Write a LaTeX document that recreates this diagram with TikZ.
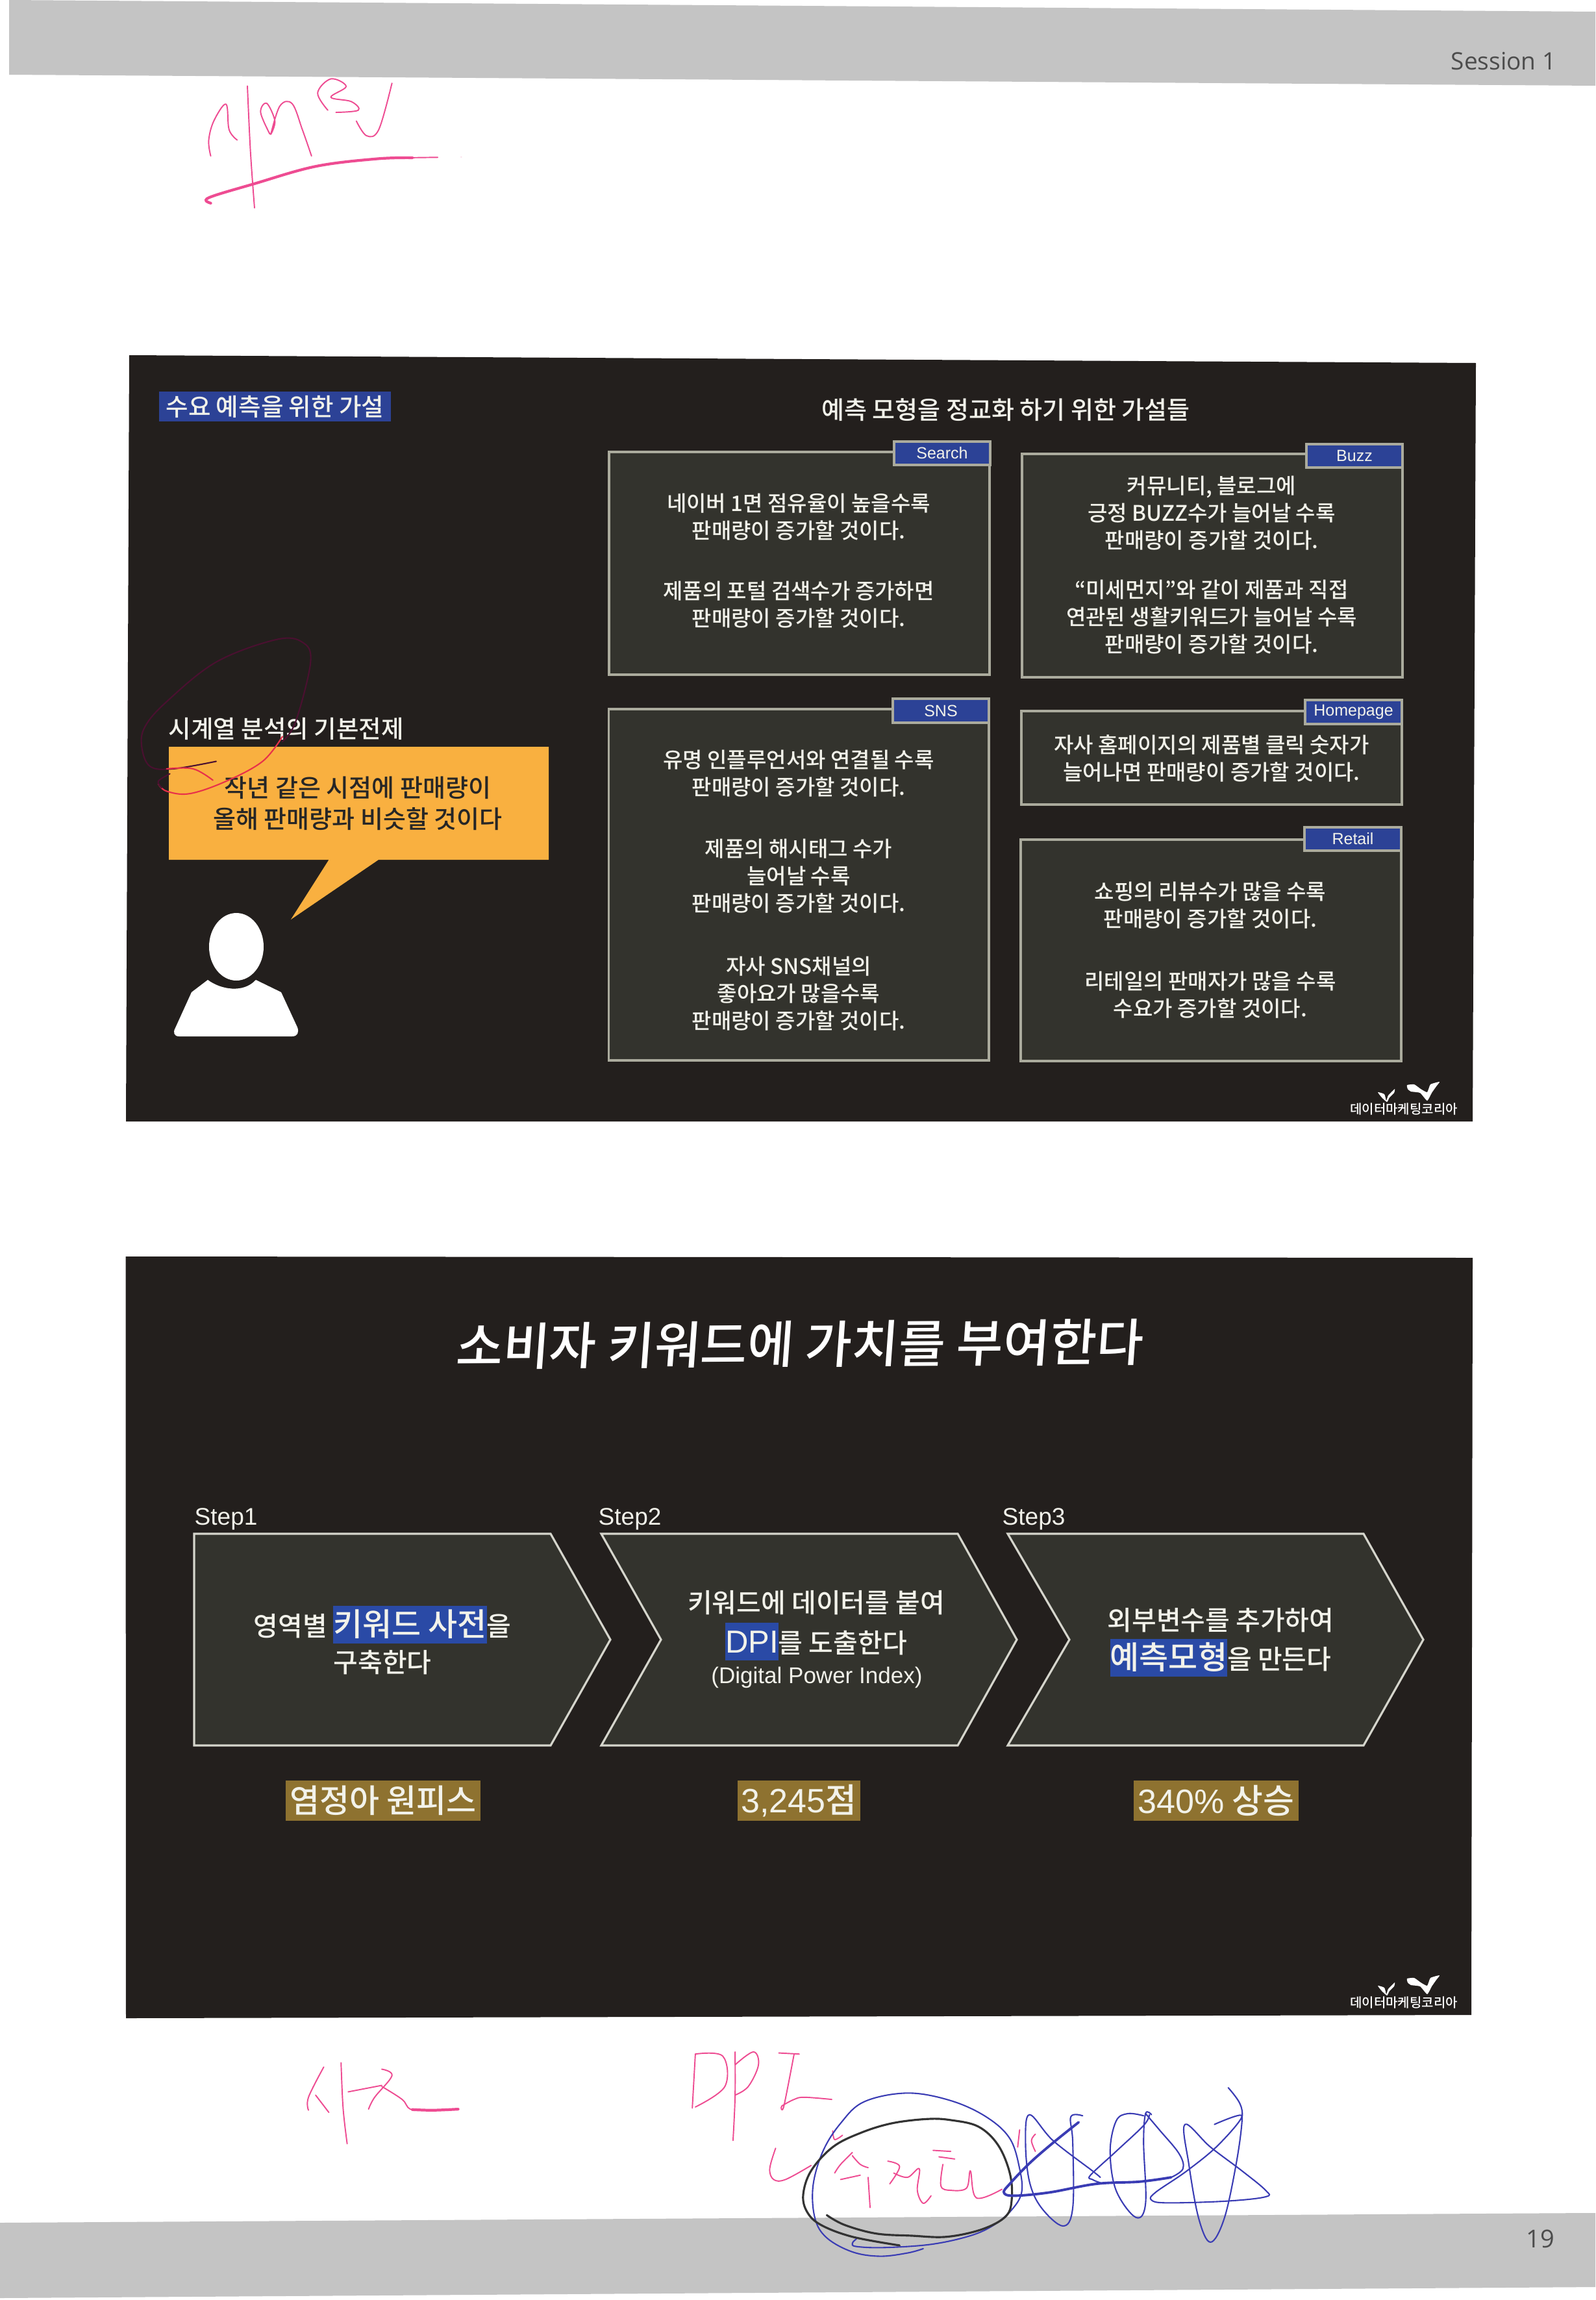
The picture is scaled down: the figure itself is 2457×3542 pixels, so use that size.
\documentclass[tikz,border=0pt]{standalone}
\usepackage{fontspec}
\setmainfont{Noto Sans CJK KR Medium}
\newfontfamily\med{Noto Sans CJK KR Medium}
\newfontfamily\lat{Liberation Sans}
\newfontfamily\opn{Open Sans}
\newfontfamily\brush{Noto Sans CJK KR Medium}[FakeSlant=0.08]
\newdimen\pxu \pxu=0.28453pt
\newcommand\fz[2]{\fontsize{#1\pxu}{#2\pxu}\selectfont}
\definecolor{slidebg}{HTML}{231F1D}
\definecolor{panelbg}{HTML}{33332D}
\definecolor{panelln}{HTML}{ABAB9D}
\definecolor{chevln}{HTML}{D5D5CC}
\definecolor{tagblue}{HTML}{2C4296}
\definecolor{hlblue}{HTML}{2A4AA6}
\definecolor{orangebox}{HTML}{F9B040}
\definecolor{gold}{HTML}{8E7230}
\definecolor{band}{HTML}{C4C4C4}
\definecolor{txt}{HTML}{F2F2EA}
\definecolor{inkp}{HTML}{EE4C92}
\definecolor{inkb}{HTML}{3A3CB4}
\definecolor{inkm}{HTML}{4A1030}
\definecolor{inkr}{HTML}{E8304A}
\newcommand\hl[1]{{\setlength\fboxsep{0pt}\colorbox{hlblue}{\rule[-11\pxu]{0pt}{58\pxu}\fz{49}{58}#1}}}
\tikzset{
  panel/.style={draw=panelln,fill=panelbg,line width=0.9pt},
  tagbox/.style={draw=panelln,fill=tagblue,line width=0.9pt},
  tagtext/.style={text=txt,font=\lat\fz{25}{30},inner sep=0pt},
  ptext/.style={text=txt,align=center,font=\fz{33}{42},inner sep=0pt},
  chev/.style={draw=chevln,fill=panelbg,line width=0.9pt},
  steplbl/.style={text=txt,anchor=west,font=\lat\fz{37}{44},inner sep=0pt},
  ctext/.style={text=txt,align=center,inner sep=0pt},
  goldbox/.style={fill=gold,text=txt,inner sep=0pt},
  logotext/.style={text=white,font=\fz{20}{22},inner sep=0pt},
  pinkink/.style={draw=inkp,line width=0.55pt,line cap=round,line join=round},
  pinkthick/.style={draw=inkp,line width=1.2pt,line cap=round},
  blueink/.style={draw=inkb,line width=0.6pt,line cap=round,line join=round},
  bluethick/.style={draw=inkb,line width=1.1pt,line cap=round,line join=round},
  blackink/.style={draw=black!80,line width=0.9pt,line cap=round,line join=round},
  maroonink/.style={draw=inkm,line width=0.6pt,line cap=round},
  redink/.style={draw=inkr,line width=0.6pt,line cap=round},
}
\newcommand\inkline[2]{\draw[#1] plot[smooth,tension=0.6] coordinates {#2};}
\newcommand\logobirds{%
\fill[white] plot[smooth cycle,tension=0.3] coordinates {(2122,1682)(2132,1685)(2135,1695)(2138,1687)(2148,1677)(2147,1683)(2140,1690)(2136,1697)(2128,1690)};
\fill[white] plot[smooth cycle,tension=0.3] coordinates {(2167,1671)(2178,1670)(2188,1677)(2198,1682)(2203,1670)(2217,1666)(2212,1673)(2205,1683)(2198,1695)(2187,1683)(2173,1681)(2168,1677)};
}
\begin{document}
\begin{tikzpicture}[x=0.01cm,y=-0.01cm]
\useasboundingbox (0,0) rectangle (2457,3542);
\fill[white] (0,0) rectangle (2457,3542);
% page bands
\fill[band] (14,0) -- (2457,18) -- (2457,132) -- (14,115) -- cycle;
\fill[band] (0,3423) -- (2445,3408) -- (2457,3408) -- (2457,3522) -- (0,3539) -- cycle;
\node[text=black!70,font=\opn\fz{37}{40},anchor=east,inner sep=0pt] (session) at (2397,94) {Session 1};
\node[text=black!70,font=\opn\fz{38}{40},anchor=east,inner sep=0pt] (pageno) at (2395,3448) {19};
% slide 1
\fill[slidebg] (199,547) -- (2273,559) -- (2268,1727) -- (194,1727) -- cycle;
\node[fill=tagblue,text=txt,minimum width=357\pxu,minimum height=46\pxu,inner sep=0pt,font=\fz{37.5}{44}] (t1) at (423.5,626) {수요 예측을 위한 가설};
\node[text=txt,font=\fz{38}{44},inner sep=0pt] (t2) at (1549,631) {예측 모형을 정교화 하기 위한 가설들};
% Search
\draw[panel] (938,696) rectangle (1524,1039);
\draw[tagbox] (1377,680) rectangle (1525,716);
\node[tagtext] (tag1) at (1451,698) {Search};
\node[ptext] (s1) at (1230,796.5) {네이버 1면 점유율이 높을수록\\판매량이 증가할 것이다.};
\node[ptext] (s2) at (1230,931.5) {제품의 포털 검색수가 증가하면\\판매량이 증가할 것이다.};
% Buzz
\draw[panel] (1574,699) rectangle (2160,1043);
\draw[tagbox] (2012,684) rectangle (2160,720);
\node[tagtext] (tag2) at (2086,702) {Buzz};
\node[ptext] (b1) at (1866,790) {커뮤니티, 블로그에\\긍정 BUZZ수가 늘어날 수록\\판매량이 증가할 것이다.};
\node[ptext] (b2) at (1866,950.5) {“미세먼지”와 같이 제품과 직접\\연관된 생활키워드가 늘어날 수록\\판매량이 증가할 것이다.};
% SNS
\draw[panel] (937.5,1092) rectangle (1523,1633);
\draw[tagbox] (1375,1076) rectangle (1523,1113);
\node[tagtext] (tag3) at (1449,1094.5) {SNS};
\node[ptext] (n1) at (1230,1191) {유명 인플루언서와 연결될 수록\\판매량이 증가할 것이다.};
\node[ptext] (n2) at (1230,1349) {제품의 해시태그 수가\\늘어날 수록\\판매량이 증가할 것이다.};
\node[ptext] (n3) at (1230,1530) {자사 SNS채널의\\좋아요가 많을수록\\판매량이 증가할 것이다.};
% Homepage
\draw[panel] (1573,1095) rectangle (2159,1239);
\draw[tagbox] (2010,1078) rectangle (2159,1115);
\node[tagtext] (tag4) at (2084.5,1096.5) {Homepage};
\node[ptext] (h1) at (1866,1167.5) {자사 홈페이지의 제품별 클릭 숫자가\\늘어나면 판매량이 증가할 것이다.};
% Retail
\draw[panel] (1572,1293) rectangle (2158,1634);
\draw[tagbox] (2009,1274) rectangle (2158,1310);
\node[tagtext] (tag5) at (2083.5,1292) {Retail};
\node[ptext] (r1) at (1864,1394) {쇼핑의 리뷰수가 많을 수록\\판매량이 증가할 것이다.};
\node[ptext] (r2) at (1864,1532.5) {리테일의 판매자가 많을 수록\\수요가 증가할 것이다.};
% left column
\node[text=txt,anchor=west,inner sep=0pt,font=\med\fz{37.5}{44}] (basis) at (259,1122) {시계열 분석의 기본전제};
\fill[orangebox] (260,1150) -- (845,1150) -- (845,1324) -- (583,1324) -- (448,1416) -- (506.5,1324) -- (260,1324) -- cycle;
\node[text=black!85,align=center,inner sep=0pt,font=\med\fz{38}{48}] (quote) at (551,1237) {작년 같은 시점에 판매량이\\올해 판매량과 비슷할 것이다};
\fill[white] (364,1458) ellipse [x radius=42,y radius=52];
\fill[white] (320,1509) .. controls (340,1524) and (375,1530) .. (394,1509) -- (433,1528) -- (458,1582) .. controls (461,1590) and (458,1596) .. (450,1596) -- (276,1596) .. controls (268,1596) and (266,1590) .. (270,1583) -- (295,1528) -- cycle;
% logo 1
\logobirds
\node[logotext] (logoa) at (2162,1708) {데이터마케팅코리아};
% slide 2
\fill[slidebg] (193.5,1935) -- (2268,1937) -- (2266,3103) -- (194,3108) -- cycle;
\node[text=white,font=\brush\fz{78}{90},inner sep=0pt,rotate=0.4] (title) at (1230,2070) {소비자 키워드에 가치를 부여한다};
\node[steplbl] (st1) at (299,2339) {Step1};
\node[steplbl] (st2) at (921,2339) {Step2};
\node[steplbl] (st3) at (1543,2339) {Step3};
\draw[chev] (299,2362) -- (848,2362) -- (940,2525) -- (848,2688) -- (299,2688) -- cycle;
\draw[chev] (926,2362) -- (1475,2362) -- (1566,2525) -- (1475,2688) -- (926,2688) -- (1018,2525) -- cycle;
\draw[chev] (1552,2362) -- (2100,2362) -- (2192,2525) -- (2100,2688) -- (1552,2688) -- (1647,2525) -- cycle;
\node[ctext,font=\fz{41}{56}] (c1) at (589,2526) {영역별 \hl{키워드 사전}을\\구축한다};
\node[ctext,font=\fz{41}{62}] (c2a) at (1257,2503) {키워드에 데이터를 붙여\\\hl{\lat DPI}를 도출한다};
\node[text=txt,font=\lat\fz{35}{40},inner sep=0pt] (c2b) at (1258,2583) {(Digital Power Index)};
\node[ctext,font=\fz{41}{60}] (c3) at (1880,2529) {외부변수를 추가하여\\\hl{예측모형}을 만든다};
\node[goldbox,minimum width=300\pxu,minimum height=61.5\pxu,font=\fz{50}{58}] (g1) at (590,2773) {염정아 원피스};
\node[goldbox,minimum width=189\pxu,minimum height=61.5\pxu,font=\fz{52}{58}] (g2) at (1230.5,2773) {{\lat 3,245}점};
\node[goldbox,minimum width=254\pxu,minimum height=61.5\pxu,font=\fz{52}{58}] (g3) at (1873,2773) {{\lat 340\%} 상승};
% logo 2
\begin{scope}[shift={(0,1376)}]
\logobirds
\end{scope}
\node[logotext] (logob) at (2162,3084) {데이터마케팅코리아};
% ink on slide 1
\begin{scope}[shift={(180,530)},x=0.0051cm,y=-0.00765cm]
\inkline{maroonink}{(500,800)(540,760)(585,640)(560,600)(480,595)(300,640)(150,720)(85,770)(75,810)(100,850)(170,855)(300,840)}
\inkline{redink}{(125,885)(150,900)(220,905)(330,880)(440,840)(500,790)}
\inkline{redink}{(150,855)(230,855)(290,878)}
\inkline{maroonink}{(160,865)(125,880)(135,893)}
\end{scope}
% ink at top
\begin{scope}[x=0.01567cm,y=-0.00333cm]
\inkline{pinkink}{(207,722)(205,650)(210,560)(222,482)(225,600)(233,648)}
\inkline{pinkink}{(243,398)(246,700)(250,962)}
\inkline{pinkink}{(265,620)(256,520)(262,478)(270,560)(266,620)(275,490)(287,480)(297,600)(306,722)}
\inkline{pinkink}{(322,510)(312,430)(325,365)(340,400)(325,450)(345,470)(352,510)(330,520)}
\inkline{pinkink}{(350,560)(360,628)(372,600)(385,385)}
\inkline{pinkthick}{(207,940)(205,915)(250,850)(310,770)(370,735)(405,730)}
\inkline{pinkink}{(400,730)(430,728)}
\fill[inkp!60] (453,727) circle [radius=1];
\end{scope}
% ink at bottom left
\begin{scope}[shift={(0,3080)},x=0.01567cm,y=-0.00333cm]
\inkline{pinkink}{(318,310)(303,450)(303,510)}
\inkline{pinkink}{(310,440)(323,520)}
\inkline{pinkink}{(335,290)(337,500)(341,665)}
\inkline{pinkink}{(342,425)(375,395)}
\inkline{pinkink}{(375,320)(385,350)(368,450)(362,505)}
\inkline{pinkink}{(375,400)(395,460)(403,505)(420,510)}
\inkline{pinkthick}{(405,507)(425,510)(450,505)}
\inkline{pinkink}{(683,250)(680,500)}
\inkline{pinkink}{(683,250)(710,260)(712,400)(683,495)}
\inkline{pinkink}{(722,240)(722,450)(720,650)}
\inkline{pinkink}{(722,300)(740,240)(745,300)(735,400)(722,440)}
\inkline{pinkink}{(765,245)(785,250)}
\inkline{pinkink}{(780,250)(770,490)(768,490)(780,460)(790,450)(817,460)}
\end{scope}
% ink over the footer
\begin{scope}[shift={(1040,3200)},x=0.00606cm,y=-0.00333cm]
\inkline{pinkink}{(255,325)(240,420)(250,470)(280,470)(345,405)}
\inkline{pinkink}{(400,245)(405,285)(425,265)}
\inkline{pinkink}{(450,345)(420,400)(405,440)}
\inkline{pinkink}{(450,360)(470,400)(490,415)}
\inkline{pinkink}{(420,470)(470,450)}
\inkline{pinkink}{(490,460)(495,600)}
\inkline{pinkink}{(540,385)(570,410)(545,490)}
\inkline{pinkink}{(555,440)(590,460)(620,420)(615,520)(630,580)(650,545)}
\inkline{pinkink}{(655,335)(700,340)}
\inkline{pinkink}{(670,365)(710,375)}
\inkline{pinkink}{(680,400)(675,500)(700,520)(740,510)(750,430)(765,555)(830,515)}
\inkline{pinkink}{(875,240)(870,320)}
\inkline{pinkink}{(915,260)(905,290)(915,340)}
\inkline{blueink}{(630,790)(590,810)(520,825)(450,805)(385,740)(355,650)(350,500)(375,340)(420,210)(480,110)(590,70)(700,105)(790,180)(850,280)(875,420)(880,530)(855,610)(810,680)(750,730)(650,770)(530,785)(460,780)(450,765)(460,745)}
\inkline{blackink}{(385,635)(430,680)(510,720)(600,730)(690,735)(780,700)(840,640)(855,560)(850,440)(820,310)(770,225)(700,195)(640,190)(550,210)(470,255)(400,320)(345,430)(325,540)(335,620)(370,680)(450,735)(570,775)}
\inkline{bluethick}{(1025,205)(960,300)(900,395)(850,490)(835,530)(860,545)(950,530)(1070,490)(1180,480)(1260,460)}
\inkline{blueink}{(1260,460)(1290,420)(1280,350)(1230,240)(1195,165)}
\inkline{blueink}{(1205,170)(1190,220)(1120,340)(1055,450)(1060,470)(1080,485)}
\inkline{blueink}{(1080,460)(1060,430)(960,290)(900,170)(890,300)(900,480)(930,600)(985,685)(1010,600)(1010,300)(1005,180)(1035,175)}
\inkline{blueink}{(1190,175)(1150,165)(1120,200)(1105,340)(1120,520)(1170,645)(1195,580)(1190,300)(1195,165)(1210,170)}
\inkline{blueink}{(1405,45)(1435,120)(1440,200)(1425,400)(1395,650)(1360,760)(1330,650)(1305,400)(1295,215)(1360,320)(1440,430)(1500,520)(1500,550)(1400,570)(1250,578)(1210,565)(1220,530)(1300,430)(1380,310)(1440,175)(1370,215)}
\end{scope}
\end{tikzpicture}
\end{document}
